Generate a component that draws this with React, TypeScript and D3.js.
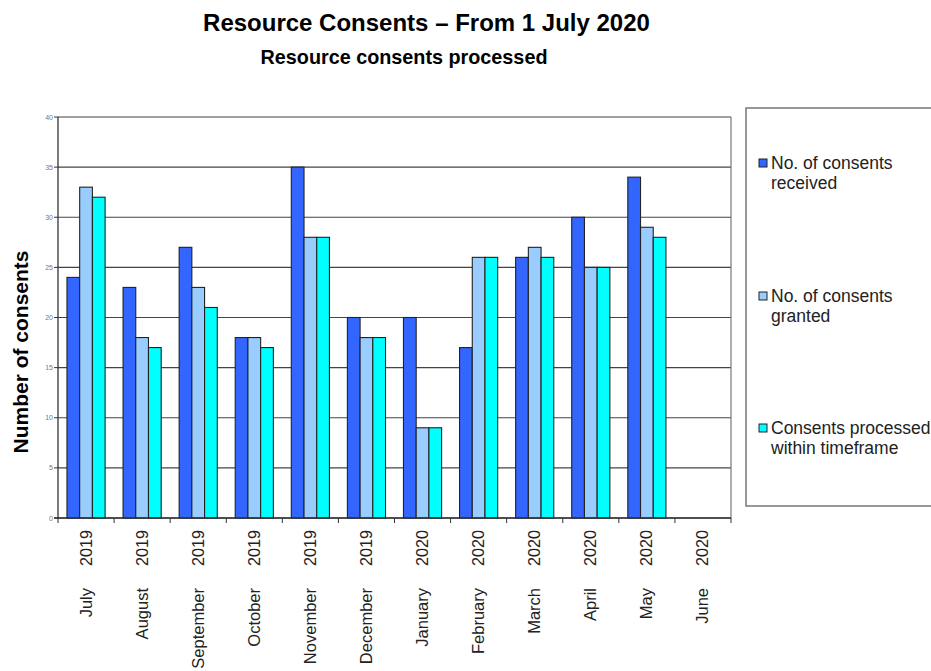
import React from "react";
import * as d3 from "d3";

const months = ["July", "August", "September", "October", "November", "December", "January", "February", "March", "April", "May", "June"];
const years = ["2019", "2019", "2019", "2019", "2019", "2019", "2020", "2020", "2020", "2020", "2020", "2020"];
const received: (number | null)[] = [24, 23, 27, 18, 35, 20, 20, 17, 26, 30, 34, null];
const granted: (number | null)[] = [33, 18, 23, 18, 28, 18, 9, 26, 27, 25, 29, null];
const processed: (number | null)[] = [32, 17, 21, 17, 28, 18, 9, 26, 26, 25, 28, null];
const seriesNames = ["No. of consents|received", "No. of consents|granted", "Consents processed|within timeframe"];
const seriesColors = ["#3366FF", "#99CCFF", "#00FFFF"];
const yTicks = [0, 5, 10, 15, 20, 25, 30, 35, 40];

const FONT = "'Liberation Sans', Arial, sans-serif";

export default function App() {
  const W = 931, H = 671;
  const left = 58, right = 731, top = 117, bottom = 518;
  const x = d3.scaleBand<string>().domain(months).range([left, right]).paddingInner(0).paddingOuter(0);
  const y = d3.scaleLinear().domain([0, 40]).range([bottom, top]);
  const series = [received, granted, processed];
  const groupW = x.bandwidth() * 0.68;
  const inner = d3.scaleBand<number>().domain([0, 1, 2]).range([0, groupW]);

  return (
    <svg width={W} height={H} style={{ position: "absolute", left: 0, top: 0, background: "#fff" }} fontFamily={FONT}>
      <text x={426.5} y={31} textAnchor="middle" fontWeight="bold" fontSize={24}>Resource Consents – From 1 July 2020</text>
      <text x={404} y={64} textAnchor="middle" fontWeight="bold" fontSize={19.8}>Resource consents processed</text>

      {/* gridlines */}
      {yTicks.map((t) => (
        <line key={t} x1={left} x2={right} y1={y(t)} y2={y(t)} stroke="#444" strokeWidth={1.2} />
      ))}
      <line x1={right} x2={right} y1={top} y2={bottom} stroke="#777" strokeWidth={1.2} />
      {/* y ticks & labels */}
      {yTicks.map((t) => (
        <g key={"yt" + t}>
          <line x1={left - 4} x2={left} y1={y(t)} y2={y(t)} stroke="#333" />
          <text x={53} y={y(t) + 2.5} textAnchor="end" fontSize={7} fill="#777">{t}</text>
        </g>
      ))}

      {/* bars */}
      {series.map((s, si) =>
        s.map((v, i) =>
          v == null ? null : (
            <rect
              key={si + "-" + i}
              x={(x(months[i]) as number) + (x.bandwidth() - groupW) / 2 + (inner(si) as number)}
              y={y(v)}
              width={inner.bandwidth()}
              height={y(0) - y(v)}
              fill={seriesColors[si]}
              stroke="#222"
              strokeWidth={1.1}
            />
          )
        )
      )}

      {/* axes */}
      <line x1={left} x2={left} y1={top} y2={bottom + 1} stroke="#333" strokeWidth={1.3} />
      <line x1={left - 4} x2={right} y1={bottom} y2={bottom} stroke="#333" strokeWidth={1.3} />
      {months.map((m, i) => (
        <line key={"xt" + i} x1={(x(m) as number)} x2={(x(m) as number)} y1={bottom} y2={bottom + 5} stroke="#333" />
      ))}
      <line x1={right} x2={right} y1={bottom} y2={bottom + 5} stroke="#333" />

      {/* x labels */}
      {months.map((m, i) => {
        const cx = (x(m) as number) + x.bandwidth() / 2 + 5.5;
        return (
          <g key={"xl" + i}>
            <text transform={`translate(${cx},530) rotate(-90)`} textAnchor="end" fontSize={16.2} fill="#222">{years[i]}</text>
            <text transform={`translate(${cx},588) rotate(-90)`} textAnchor="end" fontSize={16.5} fill="#222">{m}</text>
          </g>
        );
      })}

      {/* y axis title */}
      <text transform={`translate(28,352) rotate(-90)`} textAnchor="middle" fontWeight="bold" fontSize={21}>Number of consents</text>

      {/* legend */}
      <rect x={746} y={108} width={200} height={398} fill="#fff" stroke="#777" strokeWidth={1.5} />
      {seriesNames.map((n, i) => {
        const ly = [159, 292, 424][i];
        const [l1, l2] = n.split("|");
        return (
          <g key={"lg" + i}>
            <rect x={759} y={ly} width={8} height={8} fill={seriesColors[i]} stroke="#222" strokeWidth={1} />
            <text x={771} y={ly + 10} fontSize={17.5} fill="#222">{l1}</text>
            <text x={771} y={ly + 30} fontSize={17.5} fill="#222">{l2}</text>
          </g>
        );
      })}
    </svg>
  );
}
